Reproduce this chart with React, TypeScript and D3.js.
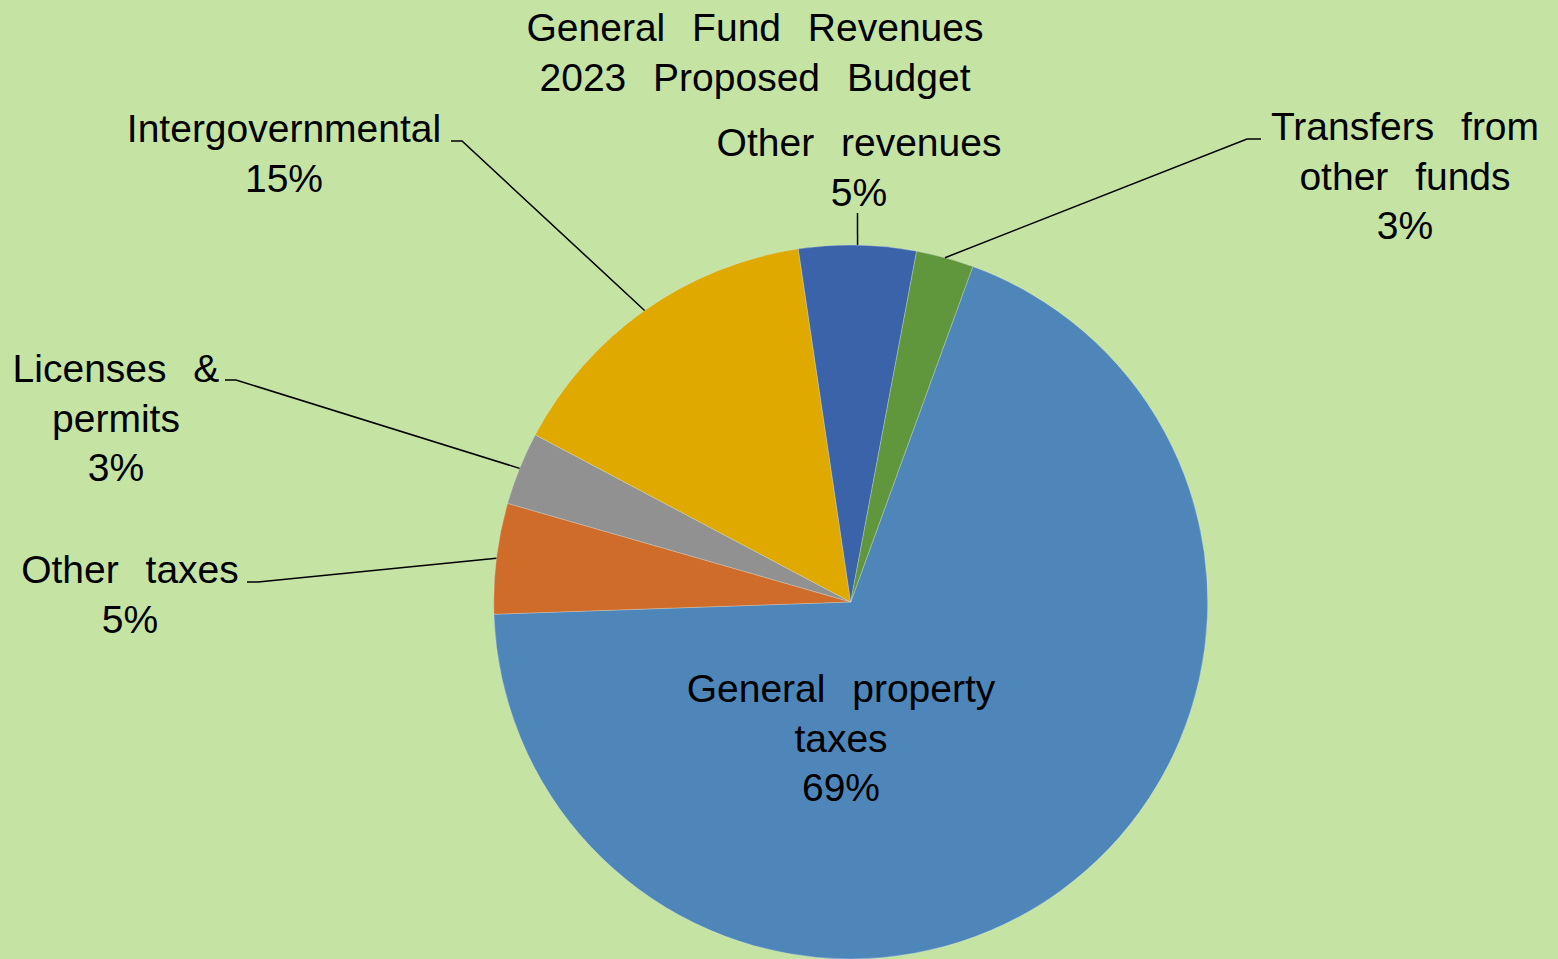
import * as d3 from "d3";

// data, in Excel's order (first slice angle 20°)
const categories = [
  "General property taxes",
  "Other taxes",
  "Licenses & permits",
  "Intergovernmental",
  "Other revenues",
  "Transfers from other funds",
];
const shares = [68.9, 5.0, 3.3, 14.9, 5.3, 2.6];
const titleLines = ["General Fund Revenues", "2023 Proposed Budget"];

// label text lines (how Excel wrapped each name)
const labelLines = [
  ["General property", "taxes"],
  ["Other taxes"],
  ["Licenses &", "permits"],
  ["Intergovernmental"],
  ["Other revenues"],
  ["Transfers from", "other funds"],
];

const colors = ["#4f86ba", "#d06c2a", "#919191", "#e0a900", "#3a63aa", "#60973d"];

const W = 1558;
const H = 959;
const cx = 850.7;
const cy = 602;
const R = 357;
const FONT = "'Liberation Sans', Arial, sans-serif";
const FS = 39;
const LH = 49.5;
const WS = 16;

// label placement: x = text centre, y = first baseline, elbow = leader end next to text
const labelLayout = [
  { x: 841, y: 702, elbow: null },
  { x: 130, y: 583, elbow: [[247, 582], [258, 582]] },
  { x: 116, y: 382, elbow: [[225, 380], [236, 380]] },
  { x: 284, y: 142, elbow: [[451, 141], [462, 141]] },
  { x: 859, y: 156, elbow: [[857.5, 213]] },
  { x: 1405, y: 140, elbow: [[1261, 139], [1247, 139]] },
];

export default function App() {
  const pie = d3
    .pie<number>()
    .sort(null)
    .startAngle((20 * Math.PI) / 180)
    .endAngle((20 * Math.PI) / 180 + 2 * Math.PI);
  const arcs = pie(shares);
  const arc = d3.arc<d3.PieArcDatum<number>>().innerRadius(0).outerRadius(R);
  const total = d3.sum(shares);

  return (
    <svg
      width={W}
      height={H}
      style={{ position: "absolute", left: 0, top: 0 }}
      fontFamily={FONT}
    >
      <rect width={W} height={H} fill="#c5e4a4" />

      <g transform={`translate(${cx},${cy})`}>
        {arcs.map((a, i) => (
          <path
            key={i}
            d={arc(a) || ""}
            fill={colors[i]}
            stroke="#dfe8ee"
            strokeOpacity={0.5}
            strokeWidth={0.6}
          />
        ))}
      </g>

      {/* leader lines */}
      {arcs.map((a, i) => {
        const lay = labelLayout[i];
        if (!lay.elbow) return null;
        const mid = (a.startAngle + a.endAngle) / 2;
        const p0: [number, number] = [cx + R * Math.sin(mid), cy - R * Math.cos(mid)];
        const pts = [p0, ...[...lay.elbow].reverse()] as [number, number][];
        return (
          <path
            key={"l" + i}
            d={d3.line()(pts) || ""}
            fill="none"
            stroke="#000"
            strokeWidth={1.5}
          />
        );
      })}

      {/* labels */}
      {categories.map((c, i) => {
        const lay = labelLayout[i];
        const pct = Math.round((shares[i] / total) * 100) + "%";
        const lines = [...labelLines[i], pct];
        return (
          <text
            key={c}
            x={lay.x}
            y={lay.y}
            textAnchor="middle"
            fontSize={FS}
            fill="#000"
            wordSpacing={WS}
          >
            {lines.map((t, j) => (
              <tspan key={j} x={lay.x} dy={j === 0 ? 0 : LH}>
                {t}
              </tspan>
            ))}
          </text>
        );
      })}

      <text x={755} y={41} textAnchor="middle" fontSize={FS} fill="#000" wordSpacing={WS}>
        {titleLines.map((t, j) => (
          <tspan key={j} x={755} dy={j === 0 ? 0 : 50}>
            {t}
          </tspan>
        ))}
      </text>
    </svg>
  );
}
